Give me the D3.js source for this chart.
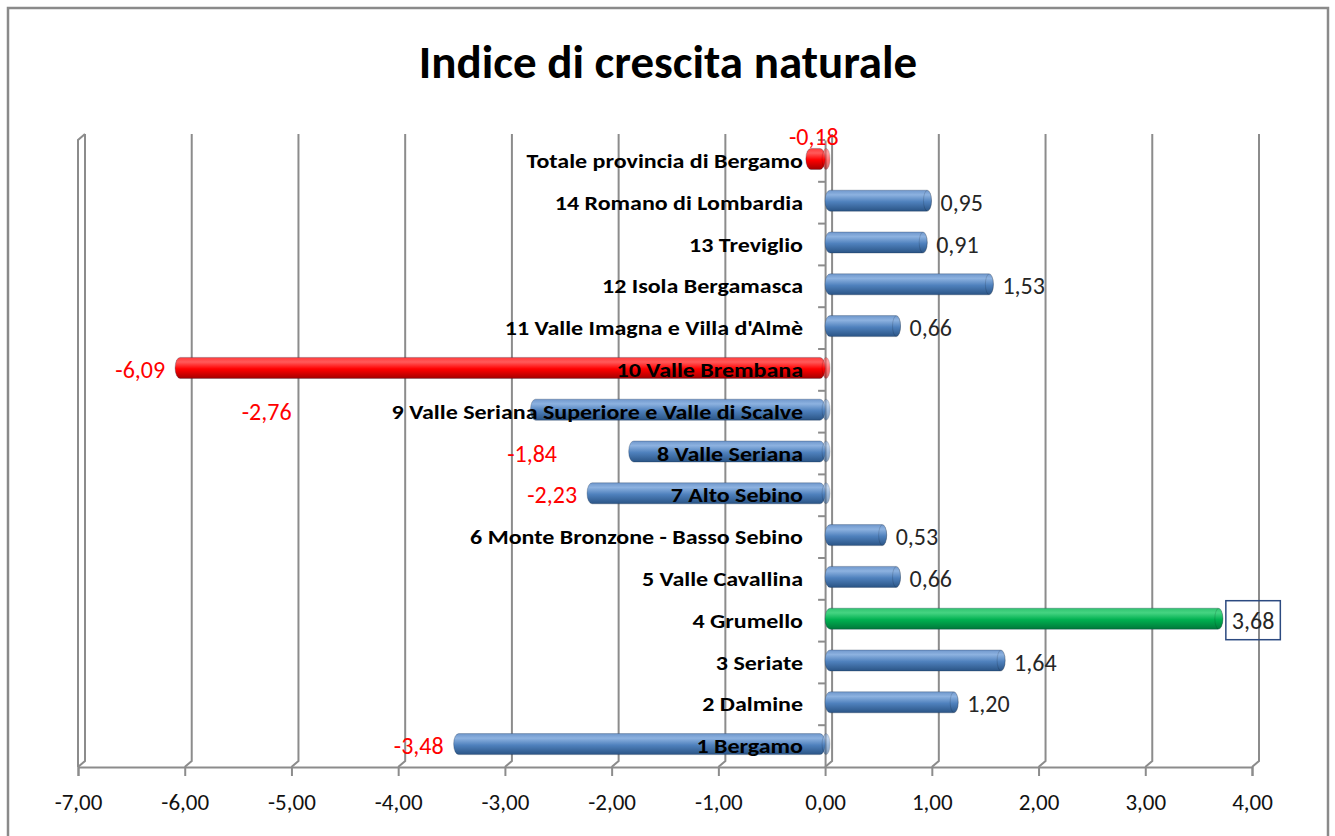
<!DOCTYPE html>
<html>
<head>
<meta charset="utf-8">
<script src="https://cdn.jsdelivr.net/npm/d3@7"></script>
<style>
  body { margin: 0; background: #fff; }
  svg text { font-family: Carlito, Calibri, Lato, sans-serif; }
</style>
</head>
<body>
<svg id="chart" width="1335" height="836"></svg>
<script>
// chart data
var categories = [
    "Totale provincia di Bergamo",
    "14 Romano di Lombardia",
    "13 Treviglio",
    "12 Isola Bergamasca",
    "11 Valle Imagna e Villa d'Almè",
    "10 Valle Brembana",
    "9 Valle Seriana Superiore e Valle di Scalve",
    "8 Valle Seriana",
    "7 Alto Sebino",
    "6 Monte Bronzone - Basso Sebino",
    "5 Valle Cavallina",
    "4 Grumello",
    "3 Seriate",
    "2 Dalmine",
    "1 Bergamo"
];
var values = [-0.18, 0.95, 0.91, 1.53, 0.66, -6.09, -2.76, -1.84, -2.23, 0.53, 0.66, 3.68, 1.64, 1.20, -3.48];
var xTicks = [-7, -6, -5, -4, -3, -2, -1, 0, 1, 2, 3, 4];
var title = "Indice di crescita naturale";

var svg = d3.select("#chart");
var depthX = 7, depthY = -6;   // 3d offset of the back wall

var x = d3.scaleLinear().domain([-7, 4]).range([78, 1252]);
var y = d3.scaleBand().domain(categories).range([140, 767]);
var fmt = function (v) { return d3.format(".2f")(v).replace(".", ",").replace("\u2212", "-"); };

// outer frame
svg.append("rect")
    .attr("x", 8).attr("y", 8)
    .attr("width", 1320).attr("height", 840)
    .attr("fill", "none").attr("stroke", "#8a8a8a").attr("stroke-width", 2.5);

svg.append("text")
    .attr("x", 668).attr("y", 78)
    .attr("text-anchor", "middle")
    .attr("font-size", 47).attr("font-weight", "bold")
    .attr("fill", "#000")
    .text(title);

// gradients for the cylinders
var defs = svg.append("defs");
function cylGrad(id, stops) {
    var g = defs.append("linearGradient").attr("id", id)
        .attr("x1", 0).attr("y1", 0).attr("x2", 0).attr("y2", 1);
    stops.forEach(function (s) {
        g.append("stop").attr("offset", s[0]).attr("stop-color", s[1]);
    });
}
cylGrad("gBlue", [[0, "#6f97cc"], [0.22, "#8db2e0"], [0.55, "#4f81bd"], [1, "#2a5485"]]);
cylGrad("gRed", [[0, "#ff3a3a"], [0.22, "#ff5a5a"], [0.55, "#ff0000"], [1, "#a50000"]]);
cylGrad("gGreen", [[0, "#2fc36f"], [0.22, "#45d482"], [0.55, "#00b050"], [1, "#00783a"]]);

function fillFor(d, i) {
    if (categories[i] === "4 Grumello") return "url(#gGreen)";
    if (categories[i] === "10 Valle Brembana" || i === 0) return "url(#gRed)";
    return "url(#gBlue)";
}

// gridlines with the back wall offset
var grid = svg.append("g").attr("stroke", "#8c8c8c").attr("stroke-width", 2).attr("fill", "none");
xTicks.forEach(function (t) {
    grid.append("path")
        .attr("d", "M" + (x(t) + depthX) + "," + (140 + depthY) +
            "V" + (767 + depthY) + "L" + x(t) + ",767");
});
// left side wall
grid.append("path")
    .attr("d", "M" + x(-7) + ",767V140L" + (x(-7) + depthX) + "," + (140 + depthY));

// x axis
var xAxis = svg.append("g")
    .attr("transform", "translate(0,767)")
    .call(d3.axisBottom(x).tickValues(xTicks).tickFormat(fmt).tickSize(9).tickPadding(18));
xAxis.select(".domain").attr("stroke", "#8c8c8c").attr("stroke-width", 2);
xAxis.selectAll(".tick line").attr("stroke", "#8c8c8c").attr("stroke-width", 2);
xAxis.selectAll(".tick text")
    .attr("font-size", 23).attr("fill", "#111")
    .style("font-family", "Carlito, Calibri, Lato, sans-serif");

// category axis at zero
var yAxis = svg.append("g")
    .attr("transform", "translate(" + x(0) + ",0)")
    .call(d3.axisLeft(y).tickSize(0).tickFormat(""));
yAxis.select(".domain").attr("stroke", "#8c8c8c").attr("stroke-width", 2);
yAxis.selectAll(".bound")
    .data(d3.range(categories.length))
    .enter().append("line")
    .attr("x1", -7).attr("x2", 0)
    .attr("y1", function (i) { return y.range()[0] + i * y.bandwidth(); })
    .attr("y2", function (i) { return y.range()[0] + i * y.bandwidth(); })
    .attr("stroke", "#8c8c8c").attr("stroke-width", 2);

// bars
var barH = 21;
var bars = svg.append("g");
bars.selectAll("rect")
    .data(values)
    .enter().append("rect")
    .attr("x", function (d) { return Math.min(x(d), x(0)); })
    .attr("y", function (d, i) { return y(categories[i]) + y.bandwidth() / 2 - 2 - barH / 2; })
    .attr("width", function (d) { return Math.abs(x(d) - x(0)) + (d > 0 ? 5 : 0); })
    .attr("height", barH)
    .attr("rx", 5).attr("ry", 10)
    .attr("fill", fillFor)
    .attr("stroke", "rgba(20,40,70,0.35)").attr("stroke-width", 0.8);
// end caps of the cylinders
bars.selectAll("ellipse")
    .data(values)
    .enter().append("ellipse")
    .attr("cx", function (d) { return d > 0 ? x(d) + 1 : x(0) + 1; })
    .attr("cy", function (d, i) { return y(categories[i]) + y.bandwidth() / 2 - 2; })
    .attr("rx", 4).attr("ry", barH / 2)
    .attr("fill", fillFor)
    .attr("opacity", 0.55)
    .attr("stroke", "rgba(0,0,0,0.25)").attr("stroke-width", 1);

// category labels (calibri in the original is wider, stretch a bit)
var stretch = 1.2;
var catLabels = svg.append("g").selectAll("text")
    .data(categories)
    .enter().append("text")
    .attr("transform", function (d) {
        return "translate(803," + (y(d) + y.bandwidth() / 2 + 7) + ") scale(" + stretch + ",1)";
    })
    .attr("text-anchor", "end")
    .attr("font-size", 20).attr("font-weight", "bold")
    .attr("fill", "#000")
    .text(function (d) { return d; });
// left edge of each category label, so negative labels can keep clear of it
var catLeft = catLabels.nodes().map(function (n) {
    return 803 - n.getComputedTextLength() * stretch;
});

// data labels
var labels = svg.append("g");
labels.selectAll("text")
    .data(values)
    .enter().append("text")
    .attr("x", function (d, i) {
        if (i === 0) return x(d) + 8;
        if (d > 0) return x(d) + 14;
        var end = x(d) - 10;
        return end > catLeft[i] - 60 ? Math.min(end, catLeft[i] - 100) : end;
    })
    .attr("y", function (d, i) {
        var c = y(categories[i]) + y.bandwidth() / 2;
        return i === 0 ? c - 16 : c + 8;
    })
    .attr("text-anchor", function (d, i) { return i === 0 ? "middle" : (d > 0 ? "start" : "end"); })
    .attr("font-size", 24)
    .attr("fill", function (d) { return d < 0 ? "#ff0000" : "#262626"; })
    .text(fmt);

// box round the highest value
var maxI = d3.maxIndex(values);
var lab = labels.selectAll("text").filter(function (d, i) { return i === maxI; });
var bb = lab.node().getBBox();
labels.append("rect")
    .attr("x", bb.x - 6).attr("y", bb.y - 5)
    .attr("width", bb.width + 12).attr("height", bb.height + 10)
    .attr("fill", "none").attr("stroke", "#2c4a80").attr("stroke-width", 1.5);
</script>
</body>
</html>
